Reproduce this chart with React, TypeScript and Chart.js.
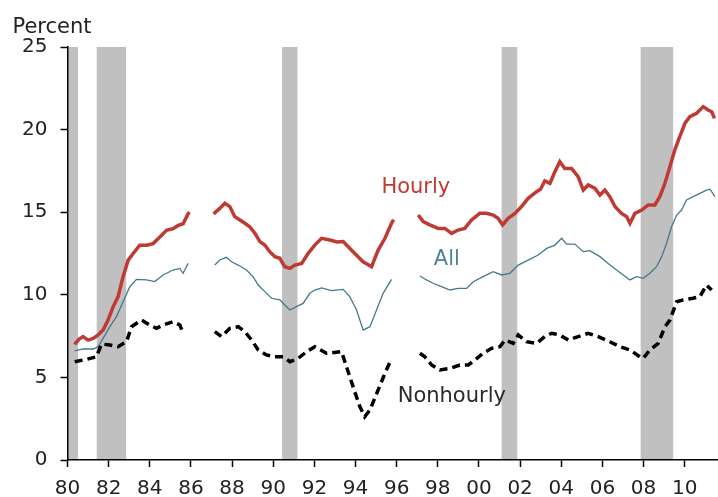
import React, { useEffect, useRef } from "react";
import { Chart, registerables } from "chart.js";

Chart.register(...registerables);

// ---- Data ----
const hourlyYears = [
  1980.35, 1980.55, 1980.76, 1981.0, 1981.25, 1981.49, 1981.73, 1981.97, 1982.22, 1982.46,
  1982.7, 1982.95, 1983.19, 1983.51, 1983.84, 1984.16, 1984.49, 1984.81, 1985.13, 1985.38,
  1985.62, 1985.86, 1985.93,
  1986.5,
  1987.1, 1987.4, 1987.65, 1987.89, 1988.13, 1988.38, 1988.62, 1988.86, 1989.11, 1989.35,
  1989.59, 1989.83, 1990.08, 1990.32, 1990.56, 1990.81, 1991.05, 1991.38, 1991.7, 1992.02,
  1992.35, 1992.75, 1993.1, 1993.4, 1993.88, 1994.37, 1994.78, 1995.1, 1995.43, 1995.75, 1995.85,
  1996.5,
  1997.05, 1997.29, 1997.61, 1998.02, 1998.34, 1998.67, 1998.99, 1999.31, 1999.64, 2000.04,
  2000.37, 2000.69, 2000.93, 2001.15, 2001.42, 2001.75, 2002.07, 2002.39, 2002.8, 2003.0,
  2003.2, 2003.45, 2003.69, 2003.93, 2004.17, 2004.5, 2004.82, 2005.07, 2005.31, 2005.64,
  2005.88, 2006.12, 2006.36, 2006.61, 2006.93, 2007.18, 2007.34, 2007.58, 2007.91, 2008.23,
  2008.55, 2008.79, 2009.04, 2009.28, 2009.52, 2009.76, 2010.01, 2010.25, 2010.58, 2010.9,
  2011.14, 2011.31, 2011.45,
];
const hourlyValues: (number | null)[] = [
  7.0, 7.3, 7.47, 7.26, 7.36, 7.57, 7.87, 8.47, 9.28, 9.89,
  11.1, 12.1, 12.5, 13.0, 13.0, 13.1, 13.5, 13.9, 14.0, 14.2,
  14.3, 14.9, 15.0,
  null,
  14.9, 15.23, 15.54, 15.34, 14.73, 14.53, 14.33, 14.12, 13.72, 13.22,
  13.01, 12.61, 12.31, 12.21, 11.7, 11.6, 11.8, 11.9, 12.51, 13.01,
  13.42, 13.32, 13.2, 13.22, 12.61, 12.0, 11.7, 12.71, 13.42, 14.33, 14.55,
  null,
  14.83, 14.43, 14.23, 14.02, 14.02, 13.72, 13.92, 14.02, 14.53, 14.93,
  14.93, 14.83, 14.63, 14.23, 14.63, 14.93, 15.34, 15.84, 16.24, 16.4,
  16.9, 16.75, 17.45, 18.06, 17.65, 17.65, 17.15, 16.34, 16.65, 16.44,
  16.04, 16.34, 15.94, 15.34, 14.93, 14.73, 14.33, 14.93, 15.13, 15.44,
  15.44, 15.94, 16.75, 17.75, 18.77, 19.57, 20.38, 20.78, 20.99, 21.39,
  21.19, 21.08, 20.68,
];

const allYears = [
  1980.35, 1980.76, 1981.25, 1981.49, 1981.73, 1982.06, 1982.38, 1982.7, 1983.03, 1983.35,
  1983.84, 1984.24, 1984.65, 1985.13, 1985.46, 1985.62, 1985.86,
  1986.5,
  1987.16, 1987.4, 1987.73, 1987.97, 1988.3, 1988.7, 1989.02, 1989.27, 1989.59, 1989.92,
  1990.32, 1990.56, 1990.81, 1991.13, 1991.45, 1991.78, 1992.02, 1992.35, 1992.83, 1993.4,
  1993.72, 1994.05, 1994.37, 1994.7, 1995.02, 1995.34, 1995.75,
  1996.5,
  1997.13, 1997.45, 1997.77, 1998.18, 1998.59, 1998.99, 1999.4, 1999.72, 2000.2, 2000.69,
  2001.1, 2001.5, 2001.91, 2002.39, 2002.88, 2003.29, 2003.69, 2004.02, 2004.26, 2004.66,
  2005.07, 2005.39, 2005.88, 2006.28, 2006.69, 2007.01, 2007.34, 2007.66, 2007.98, 2008.31,
  2008.63, 2008.88, 2009.12, 2009.36, 2009.61, 2009.85, 2010.09, 2010.41, 2010.74, 2011.06,
  2011.23, 2011.47,
];
const allValues: (number | null)[] = [
  6.6, 6.72, 6.72, 6.86, 7.36, 8.07, 8.68, 9.58, 10.49, 10.93,
  10.9, 10.8, 11.2, 11.5, 11.6, 11.3, 11.9,
  null,
  11.8, 12.11, 12.27, 12.0, 11.8, 11.5, 11.1, 10.59, 10.19, 9.79,
  9.69, 9.38, 9.08, 9.28, 9.48, 10.09, 10.29, 10.42, 10.25, 10.33,
  9.89, 9.08, 7.87, 8.07, 9.08, 10.09, 10.93,
  null,
  11.14, 10.9, 10.7, 10.49, 10.29, 10.39, 10.39, 10.79, 11.1, 11.4,
  11.2, 11.3, 11.8, 12.1, 12.41, 12.81, 13.01, 13.42, 13.07, 13.07,
  12.61, 12.67, 12.31, 11.9, 11.5, 11.2, 10.9, 11.1, 11.0, 11.3,
  11.7, 12.31, 13.12, 14.12, 14.83, 15.13, 15.74, 15.94, 16.14, 16.34,
  16.39, 15.94,
];

const nonhourlyYears = [
  1980.35, 1980.92, 1981.41, 1981.65, 1982.06, 1982.46, 1982.87, 1983.11, 1983.6, 1984.0,
  1984.33, 1984.65, 1985.13, 1985.46, 1985.59,
  1986.5,
  1987.16, 1987.49, 1987.89, 1988.3, 1988.62, 1988.95, 1989.27, 1989.67, 1990.08, 1990.48,
  1990.81, 1991.21, 1991.62, 1992.02, 1992.59, 1993.32, 1993.56, 1993.88, 1994.21, 1994.45,
  1994.7, 1995.1, 1995.43, 1995.75,
  1996.5,
  1997.13, 1997.37, 1997.7, 1998.1, 1998.59, 1999.07, 1999.48, 1999.8, 2000.2, 2000.61,
  2001.02, 2001.26, 2001.66, 2001.91, 2002.31, 2002.8, 2003.2, 2003.53, 2003.93, 2004.34,
  2004.82, 2005.31, 2005.8, 2006.36, 2006.85, 2007.34, 2007.82, 2007.98, 2008.31, 2008.71,
  2009.04, 2009.28, 2009.61, 2009.93, 2010.41, 2010.74, 2011.06, 2011.31,
];
const nonhourlyValues: (number | null)[] = [
  5.95, 6.09, 6.25, 7.02, 6.96, 6.86, 7.16, 8.07, 8.47, 8.17,
  7.97, 8.17, 8.37, 8.17, 7.77,
  null,
  7.77, 7.47, 7.97, 8.07, 7.77, 7.26, 6.66, 6.36, 6.25, 6.25,
  5.95, 6.15, 6.56, 6.86, 6.46, 6.56, 5.65, 4.44, 3.23, 2.62,
  3.03, 4.24, 5.25, 6.15,
  null,
  6.46, 6.25, 5.75, 5.45, 5.55, 5.75, 5.75, 6.05, 6.46, 6.76,
  6.86, 7.26, 7.06, 7.57, 7.16, 7.06, 7.47, 7.67, 7.57, 7.26,
  7.47, 7.67, 7.47, 7.16, 6.86, 6.66, 6.25, 6.15, 6.66, 7.06,
  8.07, 8.47, 9.58, 9.69, 9.79, 9.89, 10.59, 10.29,
];

const recessionStarts = [1980.0, 1981.42, 1990.43, 2001.1, 2007.86];
const recessionEnds = [1980.51, 1982.85, 1991.18, 2001.86, 2009.44];

const xTickYears = [1980, 1982, 1984, 1986, 1988, 1990, 1992, 1994, 1996, 1998, 2000, 2002, 2004, 2006, 2008, 2010];
const yTickValues = [0, 5, 10, 15, 20, 25];

const seriesNames = ["Hourly", "All", "Nonhourly"];
const labelYears = [1996.93, 1998.44, 1998.68];
const labelValues = [16.18, 11.82, 3.5];

const FONT = '"DejaVu Sans", Verdana, sans-serif';
const RED = "#BE3A33";
const BLUE = "#46788C";

function toPoints(xs: number[], ys: (number | null)[]) {
  return xs.map((x, i) => ({ x, y: ys[i] }));
}

const recessionPlugin = {
  id: "recessions",
  beforeDraw(chart: any) {
    const { ctx, scales } = chart;
    const xs = scales.x;
    const ys = scales.y;
    const top = ys.getPixelForValue(25);
    const bottom = ys.getPixelForValue(0);
    ctx.save();
    ctx.fillStyle = "#C0C0C0";
    recessionStarts.forEach((s, i) => {
      const x0 = xs.getPixelForValue(s);
      const x1 = xs.getPixelForValue(recessionEnds[i]);
      ctx.fillRect(x0, top, x1 - x0, bottom - top);
    });
    ctx.restore();
  },
};

const labelPlugin = {
  id: "seriesLabels",
  afterDatasetsDraw(chart: any) {
    const { ctx, scales, chartArea } = chart;
    const colors = [RED, "#4F8297", "#2A2A2A"];
    ctx.save();
    ctx.font = `21px ${FONT}`;
    ctx.textAlign = "center";
    ctx.textBaseline = "alphabetic";
    seriesNames.forEach((name, i) => {
      ctx.fillStyle = colors[i];
      ctx.fillText(name, scales.x.getPixelForValue(labelYears[i]), scales.y.getPixelForValue(labelValues[i]));
    });
    ctx.fillStyle = "#222";
    ctx.textAlign = "left";
    ctx.fillText("Percent", chartArea.left - 55, chartArea.top - 14);
    ctx.restore();
  },
};

export default function App() {
  const ref = useRef<HTMLCanvasElement>(null);

  useEffect(() => {
    if (!ref.current) return;
    const chart = new Chart(ref.current, {
      type: "line",
      data: {
        datasets: [
          {
            label: "Nonhourly",
            data: toPoints(nonhourlyYears, nonhourlyValues),
            borderColor: "#000",
            borderWidth: 3.5,
            borderDash: [8, 5],
            pointRadius: 0,
            tension: 0,
            spanGaps: false,
          },
          {
            label: "All",
            data: toPoints(allYears, allValues),
            borderColor: BLUE,
            borderWidth: 1.3,
            pointRadius: 0,
            tension: 0,
            spanGaps: false,
          },
          {
            label: "Hourly",
            data: toPoints(hourlyYears, hourlyValues),
            borderColor: RED,
            borderWidth: 3.5,
            pointRadius: 0,
            tension: 0,
            spanGaps: false,
          },
        ],
      },
      options: {
        responsive: false,
        animation: false,
        devicePixelRatio: 1,
        layout: { padding: { top: 47, right: 1, left: 0, bottom: 0 } },
        plugins: { legend: { display: false }, tooltip: { enabled: false } },
        scales: {
          x: {
            type: "linear",
            min: 1980,
            max: 2011.57,
            afterBuildTicks: (s: any) => {
              s.ticks = xTickYears.map((v) => ({ value: v }));
            },
            afterFit: (s: any) => {
              s.height = 37;
            },
            ticks: {
              callback: (v: any) => String(Math.round(v) % 100).padStart(2, "0"),
              font: { family: FONT, size: 20 },
              color: "#222",
              padding: 10,
              maxRotation: 0,
              autoSkip: false,
            },
            grid: {
              drawOnChartArea: false,
              drawTicks: true,
              tickLength: 7,
              tickColor: "#000",
              tickWidth: 1.5,
              color: "#000",
            },
            border: { display: true, color: "#000", width: 1.5 },
          },
          y: {
            type: "linear",
            min: 0,
            max: 25,
            afterBuildTicks: (s: any) => {
              s.ticks = yTickValues.map((v) => ({ value: v }));
            },
            afterFit: (s: any) => {
              s.width = 67.5;
            },
            ticks: {
              font: { family: FONT, size: 20 },
              color: "#222",
              padding: 13,
            },
            grid: {
              drawOnChartArea: false,
              drawTicks: true,
              tickLength: 7,
              tickColor: "#000",
              tickWidth: 1.5,
              color: "#000",
            },
            border: { display: true, color: "#000", width: 1.5 },
          },
        },
      } as any,
      plugins: [recessionPlugin, labelPlugin],
    } as any);
    return () => chart.destroy();
  }, []);

  return (
    <div style={{ position: "absolute", left: 0, top: 0, width: 718, height: 497, background: "#fff" }}>
      <canvas ref={ref} width={718} height={497} style={{ display: "block", width: 718, height: 497 }} />
    </div>
  );
}
